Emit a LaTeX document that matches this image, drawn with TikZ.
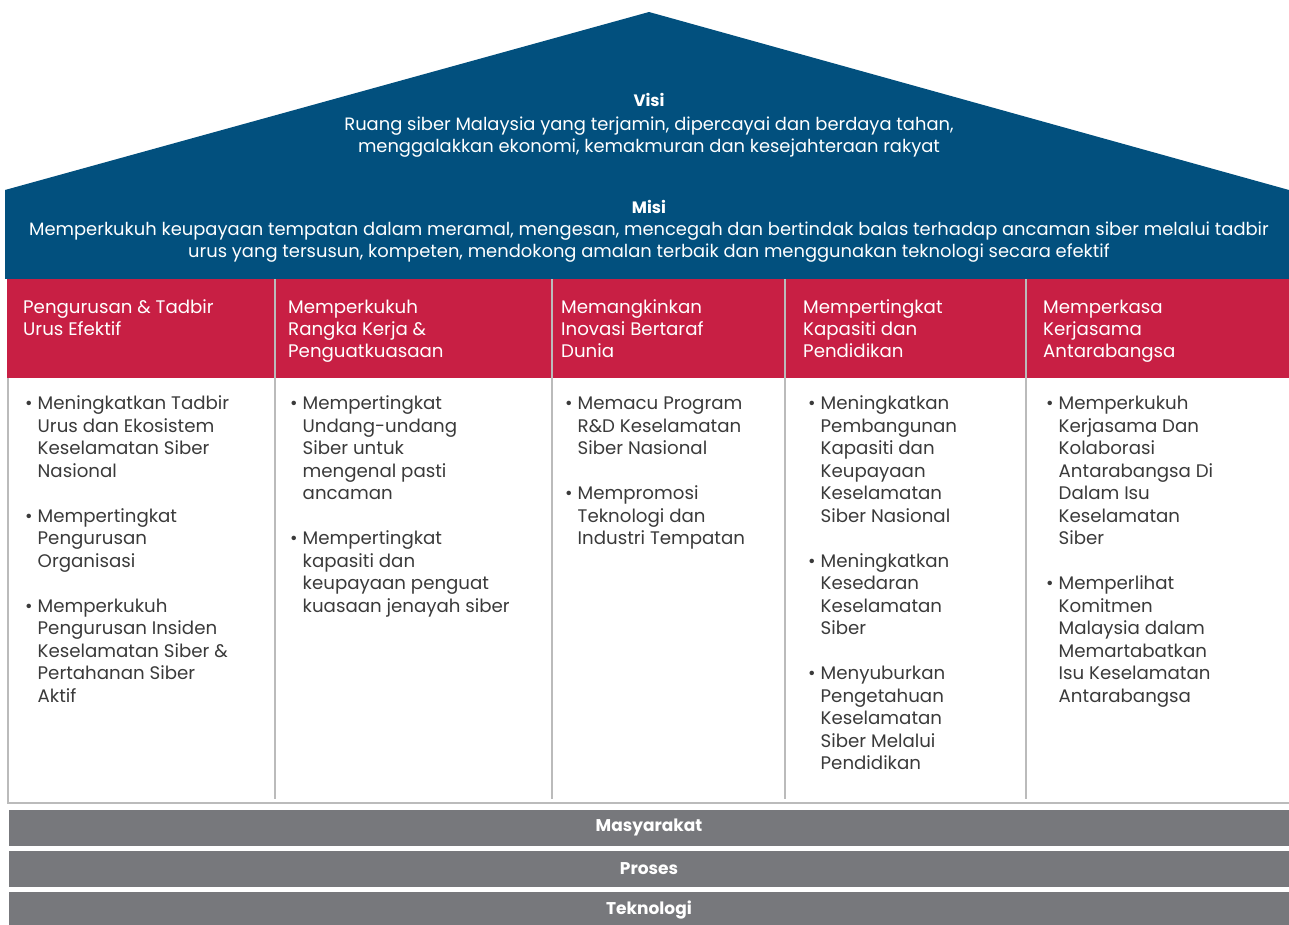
\documentclass[tikz,border=0pt]{standalone}
\usepackage{fontspec}
\setmainfont{Poppins}
\definecolor{roofblue}{HTML}{02507E}
\definecolor{pillarred}{HTML}{C81F44}
\definecolor{basegray}{HTML}{77787C}
\definecolor{linegray}{HTML}{BBBBBB}
\definecolor{bodygray}{HTML}{3A3A3A}
\begin{document}
\begin{tikzpicture}[
        x=1pt, y=-1pt,
        roof_text/.style={text=white, align=center, inner sep=0pt, font=\fontsize{17.9}{22}\selectfont},
        roof_title/.style={text=white, inner sep=0pt, font=\fontsize{16.5}{18}\selectfont\bfseries},
        pillar_head/.style={anchor=north west, inner sep=0pt, text=white, font=\fontsize{18.2}{22}\selectfont},
        pillar_body/.style={anchor=north west, inner sep=0pt, text=bodygray, font=\fontsize{18.2}{22.5}\selectfont},
        base_bar/.style={fill=basegray, text=white, minimum width=1280pt, minimum height=36pt, inner sep=0pt, font=\fontsize{17}{18}\selectfont\bfseries},
    ]
    \useasboundingbox (0,0) rectangle (1289,924);

    % Roof and mission band
    \fill[roofblue] (5,190) -- (649,12) -- (1289,190) -- cycle;
    \fill[roofblue] (5,190) rectangle (1289,279);

    \node[roof_title] (visi_title) at (649,100) {Visi};
    \node[roof_text] (visi_text) at (649,137) {Ruang siber Malaysia yang terjamin, dipercayai dan berdaya tahan,\\menggalakkan ekonomi, kemakmuran dan kesejahteraan rakyat};
    \node[roof_title] (misi_title) at (649,207) {Misi};
    \node[roof_text] (misi_text) at (649,242) {Memperkukuh keupayaan tempatan dalam meramal, mengesan, mencegah dan bertindak balas terhadap ancaman siber melalui tadbir\\urus yang tersusun, kompeten, mendokong amalan terbaik dan menggunakan teknologi secara efektif};

    % Pillar heads and body frame
    \fill[pillarred] (7,279) rectangle (1289,378);
    \draw[linegray, line width=1.5pt] (8,378) -- (8,803) -- (1289,803);
    \foreach \x in {275,552,785,1026} {
        \draw[linegray, line width=1.2pt] (\x,279) -- (\x,799);
    }

    % Pillar titles
    \node[pillar_head] (head_urus) at (23,298) {\begin{tabular}{@{}l@{}}Pengurusan \& Tadbir\\Urus Efektif\end{tabular}};
    \node[pillar_head] (head_rangka) at (288,298) {\begin{tabular}{@{}l@{}}Memperkukuh\\Rangka Kerja \&\\Penguatkuasaan\end{tabular}};
    \node[pillar_head] (head_inovasi) at (561,298) {\begin{tabular}{@{}l@{}}Memangkinkan\\Inovasi Bertaraf\\Dunia\end{tabular}};
    \node[pillar_head] (head_kapasiti) at (803,298) {\begin{tabular}{@{}l@{}}Mempertingkat\\Kapasiti dan\\Pendidikan\end{tabular}};
    \node[pillar_head] (head_kerjasama) at (1043,298) {\begin{tabular}{@{}l@{}}Memperkasa\\Kerjasama\\Antarabangsa\end{tabular}};

    % Pillar points
    \node[pillar_body] (body_urus) at (25,394) {\begin{tabular}{@{}l@{\hspace{5pt}}l@{}}
        \textbullet & Meningkatkan Tadbir\\ & Urus dan Ekosistem\\ & Keselamatan Siber\\ & Nasional\\ & \\
        \textbullet & Mempertingkat\\ & Pengurusan\\ & Organisasi\\ & \\
        \textbullet & Memperkukuh\\ & Pengurusan Insiden\\ & Keselamatan Siber \&\\ & Pertahanan Siber\\ & Aktif
    \end{tabular}};
    \node[pillar_body] (body_rangka) at (290,394) {\begin{tabular}{@{}l@{\hspace{5pt}}l@{}}
        \textbullet & Mempertingkat\\ & Undang-undang\\ & Siber untuk\\ & mengenal pasti\\ & ancaman\\ & \\
        \textbullet & Mempertingkat\\ & kapasiti dan\\ & keupayaan penguat\\ & kuasaan jenayah siber
    \end{tabular}};
    \node[pillar_body] (body_inovasi) at (565,394) {\begin{tabular}{@{}l@{\hspace{5pt}}l@{}}
        \textbullet & Memacu Program\\ & R\&D Keselamatan\\ & Siber Nasional\\ & \\
        \textbullet & Mempromosi\\ & Teknologi dan\\ & Industri Tempatan
    \end{tabular}};
    \node[pillar_body] (body_kapasiti) at (808,394) {\begin{tabular}{@{}l@{\hspace{5pt}}l@{}}
        \textbullet & Meningkatkan\\ & Pembangunan\\ & Kapasiti dan\\ & Keupayaan\\ & Keselamatan\\ & Siber Nasional\\ & \\
        \textbullet & Meningkatkan\\ & Kesedaran\\ & Keselamatan\\ & Siber\\ & \\
        \textbullet & Menyuburkan\\ & Pengetahuan\\ & Keselamatan\\ & Siber Melalui\\ & Pendidikan
    \end{tabular}};
    \node[pillar_body] (body_kerjasama) at (1046,394) {\begin{tabular}{@{}l@{\hspace{5pt}}l@{}}
        \textbullet & Memperkukuh\\ & Kerjasama Dan\\ & Kolaborasi\\ & Antarabangsa Di\\ & Dalam Isu\\ & Keselamatan\\ & Siber\\ & \\
        \textbullet & Memperlihat\\ & Komitmen\\ & Malaysia dalam\\ & Memartabatkan\\ & Isu Keselamatan\\ & Antarabangsa
    \end{tabular}};

    % Foundation bars
    \node[base_bar] (bar_masyarakat) at (649,827.5) {Masyarakat};
    \node[base_bar] (bar_proses) at (649,869) {Proses};
    \node[base_bar] (bar_teknologi) at (649,910) {Teknologi};

\end{tikzpicture}
\end{document}
